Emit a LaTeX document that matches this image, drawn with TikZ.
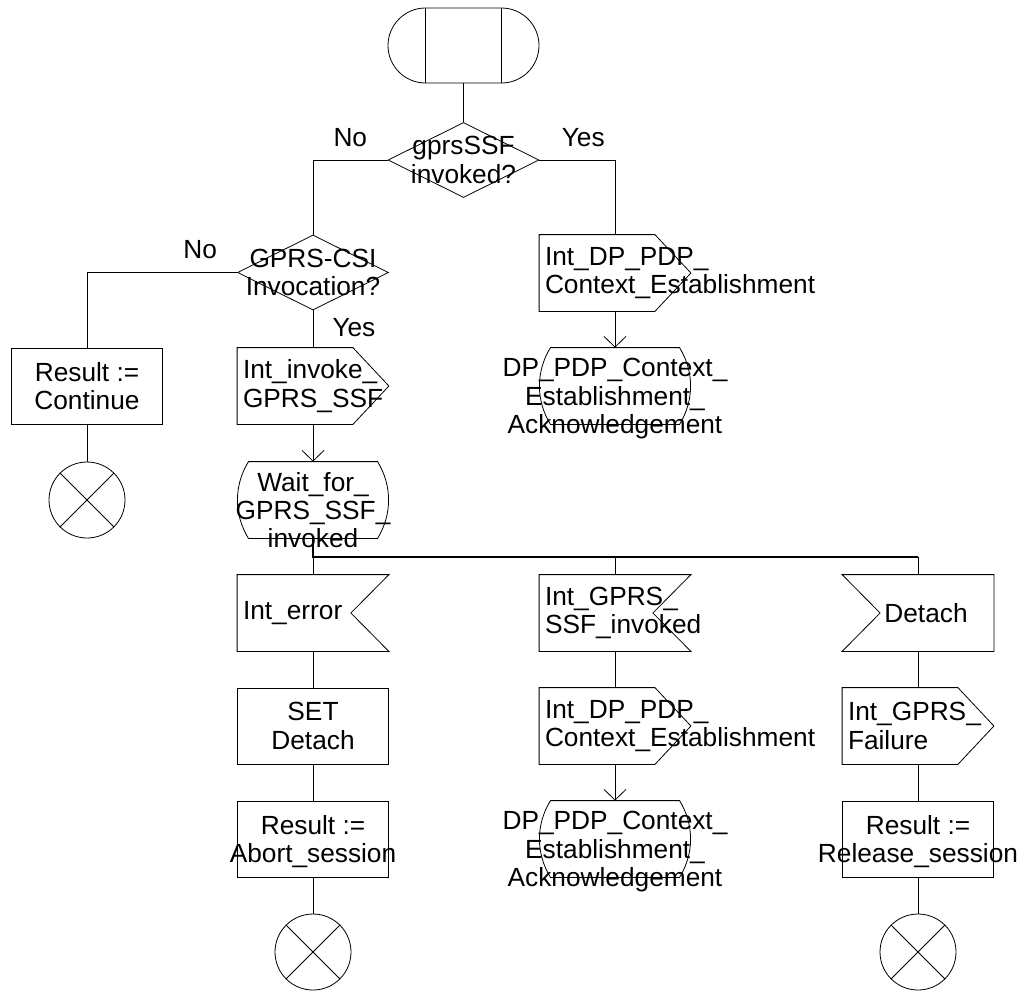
\documentclass[tikz,border=0pt]{standalone}
\usepackage{fontspec}
\setmainfont{Liberation Sans}
\usepackage{tikz}
\usetikzlibrary{arrows.meta,shapes,positioning,calc}
\hyphenpenalty=10000

\begin{document}
\begin{tikzpicture}[x=0.75pt, y=-0.75pt, line width=0.6pt,
    font=\fontsize{19.7}{21.3}\selectfont,
    every label/.style={inner sep=0pt},
    blk/.style={rectangle, minimum width=113.25pt, minimum height=57pt, inner sep=0pt},
    task/.style={blk, draw},
    dec/.style={diamond, draw, minimum width=113.25pt, minimum height=56.25pt, inner sep=0pt},
    stop/.style={circle, draw, minimum size=57pt, inner sep=0pt},
    mid/.style={label={[align=center, text depth=0pt]center:#1}},
    lft/.style={label={[text width=105pt, align=left]center:#1}},
    sta/.style={label={[align=center, text depth=0pt, yshift=-7.5pt]center:#1}},
    arr/.style={-{Straight Barb[length=8pt, width=16.5pt]}},
    bus/.style={line width=1.2pt}]
    \useasboundingbox (0,0) rectangle (1023,990);

    % 起始
    \node[rounded rectangle, draw, minimum width=113.25pt, minimum height=56.25pt, inner sep=0pt] (st) at (463.5,45.5) {};
    \draw ([xshift=-28.5pt]st.north) -- ([xshift=-28.5pt]st.south)
          ([xshift=28.5pt]st.north) -- ([xshift=28.5pt]st.south);

    % 判断
    \node[dec, mid={gprsSSF\\invoked?}] (d1) at (463.5,160) {};
    \node[dec, mid={GPRS-CSI\\Invocation?}] (d2) at (313,272.5) {};

    % 各列方框
    \node[blk, lft={Int\_DP\_PDP\_\\Context\_Establishment}] (o1) at (615,273) {};
    \node[task, mid={Result :=\\Continue}] (r1) at (87,386) {};
    \node[blk, lft={Int\_invoke\_\\GPRS\_SSF}] (o2) at (313,386) {};
    \node[blk, sta={DP\_PDP\_Context\_\\Establishment\_\\Acknowledgement}] (s1) at (615,386) {};
    \node[stop] (e1) at (87,500) {};
    \node[blk, sta={Wait\_for\_\\GPRS\_SSF\_\\invoked}] (s2) at (313,500) {};
    \coordinate (bus) at (313,557);

    \node[blk, lft={Int\_error}] (i1) at (313,613) {};
    \node[blk, lft={Int\_GPRS\_\\SSF\_invoked}] (i2) at (615,613) {};
    \node[blk, label={[xshift=6pt]center:Detach}] (i3) at (918,613) {};
    \node[task, mid={SET\\Detach}] (t1) at (313,726) {};
    \node[blk, lft={Int\_DP\_PDP\_\\Context\_Establishment}] (o3) at (615,726) {};
    \node[blk, lft={Int\_GPRS\_\\Failure}] (o4) at (918,726) {};
    \node[task, mid={Result :=\\Abort\_session}] (t2) at (313,839) {};
    \node[blk, sta={DP\_PDP\_Context\_\\Establishment\_\\Acknowledgement}] (s3) at (615,839) {};
    \node[task, mid={Result :=\\Release\_session}] (t3) at (918,839) {};
    \node[stop] (e2) at (313,952) {};
    \node[stop] (e3) at (918,952) {};

    % 输出符号
    \foreach \n in {o1,o2,o3,o4}
        \draw (\n.north west) -- ([xshift=-27pt]\n.north east) -- (\n.east)
              -- ([xshift=-27pt]\n.south east) -- (\n.south west) -- cycle;

    % 输入符号
    \foreach \n in {i1,i2}
        \draw (\n.north west) -- (\n.north east) -- ([xshift=-28.5pt]\n.east)
              -- (\n.south east) -- (\n.south west) -- cycle;
    \draw (i3.north west) -- (i3.north east) -- (i3.south east)
          -- (i3.south west) -- ([xshift=28.5pt]i3.west) -- cycle;

    % 状态符号
    \foreach \n in {s1,s2,s3}
        \draw ([xshift=8.5pt]\n.north west) -- ([xshift=-8.5pt]\n.north east)
              .. controls +(11pt,-18pt) and +(11pt,18pt) .. ([xshift=-8.5pt]\n.south east)
              -- ([xshift=8.5pt]\n.south west)
              .. controls +(-11pt,18pt) and +(-11pt,-18pt) .. ([xshift=8.5pt]\n.north west);

    % 终止
    \foreach \n in {e1,e2,e3}
        \draw (\n.north west) -- (\n.south east) (\n.north east) -- (\n.south west);

    % 连线
    \draw (st) -- (d1);
    \draw (d1.west) -| node[pos=0.25, above=6.4pt] (no1) {No} (d2.north);
    \draw (d1.east) -| node[pos=0.29, above=6.4pt] (yes1) {Yes} (o1.north);
    \draw (d2.west) -| node[pos=0.123, above=6.4pt] (no2) {No} (r1.north);
    \draw (d2) -- node[pos=0.45, right=11pt] (yes2) {Yes} (o2);
    \draw (r1) -- (e1);
    \draw[arr] (o1) -- (s1);
    \draw[arr] (o2) -- (s2);
    \draw[bus] (s2) -- (bus) -- (bus -| i3.north);
    \draw (bus) -- (i1);
    \draw (bus -| i2.north) -- (i2);
    \draw (bus -| i3.north) -- (i3);
    \draw (i1) -- (t1) -- (t2) -- (e2);
    \draw (i2) -- (o3);
    \draw[arr] (o3) -- (s3);
    \draw (i3) -- (o4) -- (t3) -- (e3);
\end{tikzpicture}
\end{document}
